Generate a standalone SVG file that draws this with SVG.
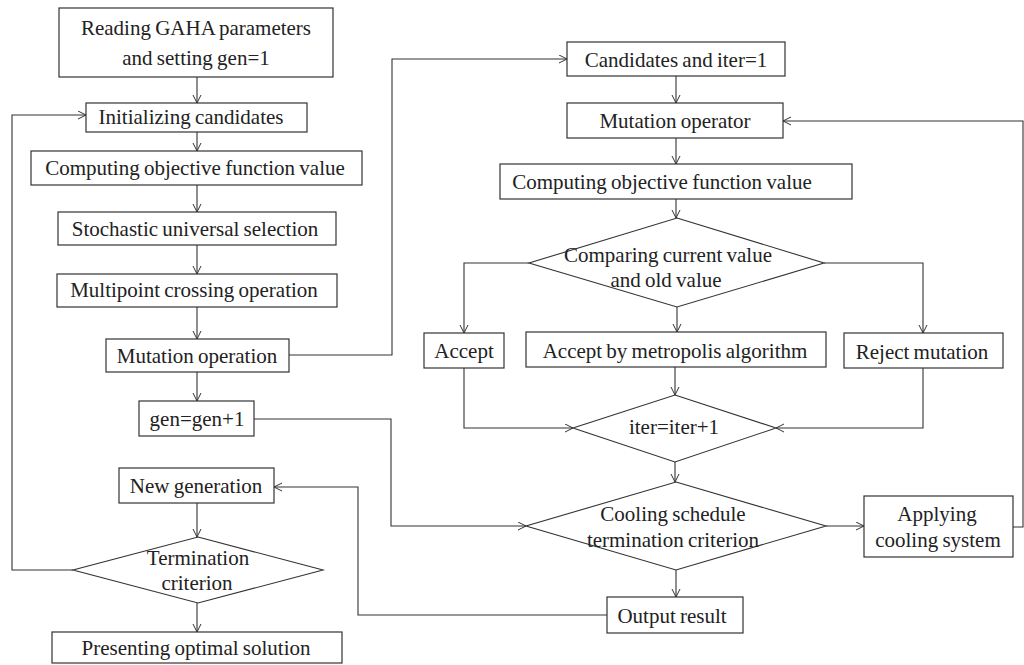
<svg xmlns="http://www.w3.org/2000/svg" width="1024" height="665" viewBox="0 0 1024 665" font-family="'Liberation Serif', 'Times New Roman', serif">
  <defs>
    <marker id="arrow" markerUnits="userSpaceOnUse" markerWidth="10" markerHeight="10" refX="8" refY="4.5" orient="auto">
      <path d="M0,0.5 L8,4.5 L0,8.5" fill="none" stroke="#333" stroke-width="1"/>
    </marker>
  </defs>
  <style>
    .box { fill: #fff; stroke: #333; stroke-width: 1.2; }
    .dia { fill: none; stroke: #333; stroke-width: 1.1; }
    .lbl { font-family: 'Liberation Serif', 'Times New Roman', serif; font-size: 21px; fill: #222; text-anchor: middle; word-spacing: -1px; }
    .conn path { fill: none; stroke: #333; stroke-width: 1.1; }
    .arr { marker-end: url(#arrow); }
  </style>

  <rect width="1024" height="665" fill="#fff"/>

  <!-- connectors -->
  <g id="connectors" class="conn">
    <path class="arr" d="M197,77 V103"/>
    <path class="arr" d="M197,132 V151"/>
    <path class="arr" d="M197,185 V212"/>
    <path class="arr" d="M197,245 V274"/>
    <path class="arr" d="M197,307 V339"/>
    <path class="arr" d="M197,372 V401"/>
    <path class="arr" d="M197,503 V537"/>
    <path class="arr" d="M197,603 V632"/>
    <path class="arr" d="M73,570 H12 V115 H86"/>
    <path class="arr" d="M289,355 H392 V59 H567"/>
    <path class="arr" d="M254,419 H391 V526 H526"/>
    <path class="arr" d="M607,615 H358 V487 H274"/>
    <path class="arr" d="M676,76 V103"/>
    <path class="arr" d="M676,138 V164"/>
    <path class="arr" d="M676,199 V218"/>
    <path class="arr" d="M529,263 H464 V333"/>
    <path class="arr" d="M677,307 V332"/>
    <path class="arr" d="M824,263 H923 V333"/>
    <path class="arr" d="M464,368 V428 H573"/>
    <path class="arr" d="M675,367 V395"/>
    <path class="arr" d="M923,368 V428 H776"/>
    <path class="arr" d="M675,462 V482"/>
    <path class="arr" d="M676,570 V597"/>
    <path class="arr" d="M826,526 H864"/>
    <path class="arr" d="M1013,527 H1023 V121 H783"/>
  </g>

  <!-- genetic algorithm column -->
  <g id="read-params">
    <rect class="box" x="59" y="8" width="274" height="69"/>
    <text class="lbl" x="196" y="35">Reading GAHA parameters</text>
    <text class="lbl" x="196" y="65">and setting gen=1</text>
  </g>
  <g id="init-candidates">
    <rect class="box" x="86" y="103" width="221" height="29"/>
    <text class="lbl" x="191" y="124">Initializing candidates</text>
  </g>
  <g id="compute-objective-ga">
    <rect class="box" x="31" y="151" width="331" height="34"/>
    <text class="lbl" x="195" y="175">Computing objective function value</text>
  </g>
  <g id="sus-selection">
    <rect class="box" x="58" y="212" width="278" height="33"/>
    <text class="lbl" x="195" y="236">Stochastic universal selection</text>
  </g>
  <g id="multipoint-crossing">
    <rect class="box" x="57" y="274" width="280" height="33"/>
    <text class="lbl" x="194" y="297">Multipoint crossing operation</text>
  </g>
  <g id="mutation-operation">
    <rect class="box" x="106" y="339" width="183" height="33"/>
    <text class="lbl" x="197" y="363">Mutation operation</text>
  </g>
  <g id="gen-increment">
    <rect class="box" x="139" y="401" width="115" height="35"/>
    <text class="lbl" x="197" y="426">gen=gen+1</text>
  </g>
  <g id="new-generation">
    <rect class="box" x="119" y="468" width="155" height="35"/>
    <text class="lbl" x="196" y="493">New generation</text>
  </g>
  <g id="termination">
    <polygon class="dia" points="198,537 323,570 198,603 73,570"/>
    <text class="lbl" x="198" y="565">Termination</text>
    <text class="lbl" x="197" y="590">criterion</text>
  </g>
  <g id="optimal-solution">
    <rect class="box" x="52" y="632" width="290" height="31"/>
    <text class="lbl" x="196" y="655">Presenting optimal solution</text>
  </g>

  <!-- simulated annealing column -->
  <g id="sa-candidates">
    <rect class="box" x="567" y="42" width="218" height="34"/>
    <text class="lbl" x="676" y="67">Candidates and iter=1</text>
  </g>
  <g id="mutation-operator">
    <rect class="box" x="567" y="103" width="216" height="35"/>
    <text class="lbl" x="675" y="128">Mutation operator</text>
  </g>
  <g id="compute-objective-sa">
    <rect class="box" x="500" y="164" width="352" height="35"/>
    <text class="lbl" x="662" y="189">Computing objective function value</text>
  </g>
  <g id="compare-values">
    <polygon class="dia" points="677,218 824,263 677,307 529,263"/>
    <text class="lbl" x="668" y="262">Comparing current value</text>
    <text class="lbl" x="666" y="287">and old value</text>
  </g>
  <g id="accept">
    <rect class="box" x="424" y="333" width="80" height="35"/>
    <text class="lbl" x="464" y="358">Accept</text>
  </g>
  <g id="accept-metropolis">
    <rect class="box" x="526" y="332" width="300" height="35"/>
    <text class="lbl" x="675" y="358">Accept by metropolis algorithm</text>
  </g>
  <g id="reject-mutation">
    <rect class="box" x="844" y="333" width="159" height="35"/>
    <text class="lbl" x="922" y="359">Reject mutation</text>
  </g>
  <g id="iter-increment">
    <polygon class="dia" points="675,395 776,428 675,462 573,428"/>
    <text class="lbl" x="674" y="434">iter=iter+1</text>
  </g>
  <g id="cooling-criterion">
    <polygon class="dia" points="676,482 826,526 676,570 526,526"/>
    <text class="lbl" x="673" y="521">Cooling schedule</text>
    <text class="lbl" x="673" y="547">termination criterion</text>
  </g>
  <g id="output-result">
    <rect class="box" x="607" y="597" width="136" height="36"/>
    <text class="lbl" x="672" y="623">Output result</text>
  </g>
  <g id="apply-cooling">
    <rect class="box" x="864" y="496" width="149" height="61"/>
    <text class="lbl" x="937" y="521">Applying</text>
    <text class="lbl" x="938" y="547">cooling system</text>
  </g>
</svg>
